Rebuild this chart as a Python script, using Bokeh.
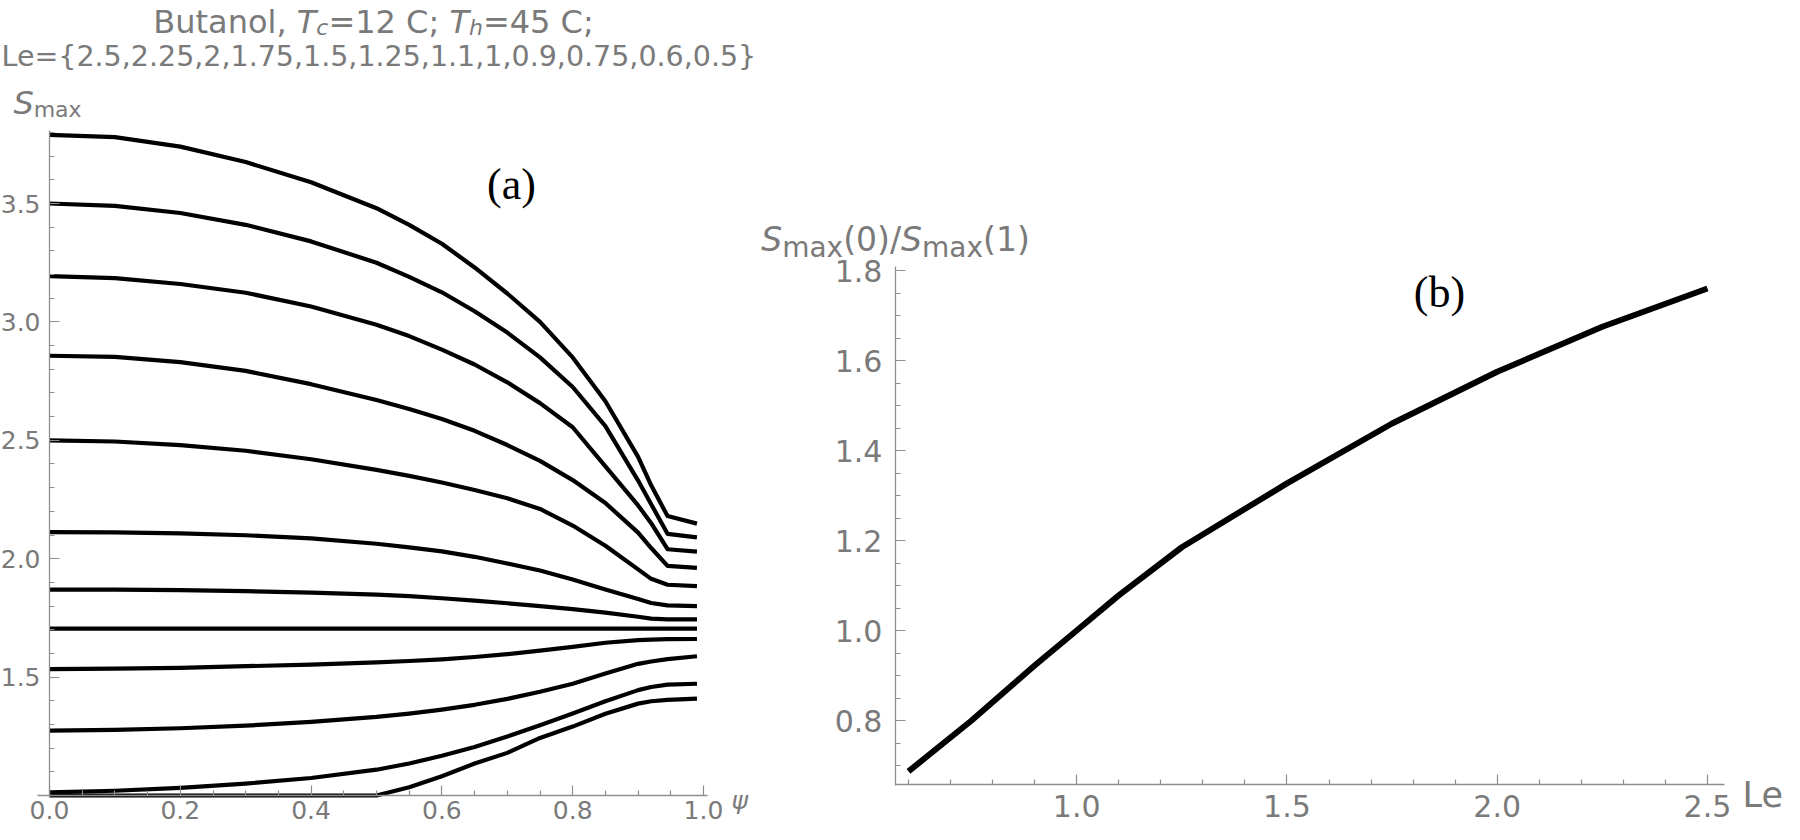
from bokeh.plotting import figure
from bokeh.layouts import row
from bokeh.models import Label, FixedTicker, Range1d
from bokeh.embed import file_html
from bokeh.resources import INLINE

# ---------------- data ----------------
LE_VALUES = ["2.5", "2.25", "2", "1.75", "1.5", "1.25", "1.1", "1", "0.9", "0.75", "0.6", "0.5"]
TC = 12
TH = 45

PSI = [0.0, 0.1, 0.2, 0.3, 0.4, 0.5, 0.55, 0.6, 0.65, 0.7, 0.75, 0.8, 0.85, 0.9, 0.92, 0.945, 0.99]

S_LE_2_5  = [3.79, 3.78, 3.74, 3.675, 3.59, 3.48, 3.41, 3.33, 3.23, 3.12, 3.00, 2.85, 2.665, 2.43, 2.31, 2.18, 2.148]
S_LE_2_25 = [3.50, 3.49, 3.46, 3.41, 3.34, 3.25, 3.19, 3.125, 3.045, 2.955, 2.85, 2.725, 2.56, 2.33, 2.23, 2.105, 2.09]
S_LE_2_0  = [3.193, 3.185, 3.16, 3.123, 3.065, 2.988, 2.94, 2.883, 2.82, 2.745, 2.657, 2.555, 2.39, 2.225, 2.15, 2.04, 2.03]
S_LE_1_75 = [2.857, 2.852, 2.83, 2.793, 2.737, 2.67, 2.632, 2.59, 2.54, 2.48, 2.413, 2.332, 2.235, 2.11, 2.045, 1.97, 1.961]
S_LE_1_5  = [2.50, 2.495, 2.48, 2.456, 2.42, 2.375, 2.35, 2.322, 2.29, 2.255, 2.21, 2.14, 2.055, 1.955, 1.915, 1.89, 1.884]
S_LE_1_25 = [2.112, 2.111, 2.107, 2.099, 2.086, 2.063, 2.048, 2.031, 2.008, 1.98, 1.95, 1.912, 1.87, 1.83, 1.813, 1.803, 1.80]
S_LE_1_1  = [1.869, 1.869, 1.867, 1.863, 1.857, 1.848, 1.842, 1.833, 1.823, 1.812, 1.80, 1.787, 1.772, 1.755, 1.747, 1.744, 1.744]
S_LE_1_0  = [1.705, 1.705, 1.705, 1.705, 1.705, 1.705, 1.705, 1.705, 1.705, 1.705, 1.705, 1.705, 1.705, 1.705, 1.705, 1.705, 1.705]
S_LE_0_9  = [1.534, 1.536, 1.539, 1.546, 1.553, 1.562, 1.568, 1.575, 1.585, 1.597, 1.612, 1.628, 1.645, 1.656, 1.658, 1.66, 1.661]
S_LE_0_75 = [1.274, 1.277, 1.284, 1.295, 1.311, 1.332, 1.346, 1.363, 1.383, 1.408, 1.438, 1.472, 1.515, 1.556, 1.566, 1.576, 1.588]
S_LE_0_6  = [1.013, 1.02, 1.032, 1.05, 1.074, 1.109, 1.135, 1.168, 1.205, 1.249, 1.297, 1.346, 1.398, 1.445, 1.458, 1.468, 1.472]
S_LE_0_5  = [1.0, 1.0, 1.0, 1.0, 1.0, 1.0, 1.035, 1.081, 1.135, 1.18, 1.243, 1.291, 1.345, 1.388, 1.398, 1.404, 1.409]

CURVES_A = [S_LE_2_5, S_LE_2_25, S_LE_2_0, S_LE_1_75, S_LE_1_5, S_LE_1_25,
            S_LE_1_1, S_LE_1_0, S_LE_0_9, S_LE_0_75, S_LE_0_6, S_LE_0_5]

LE_B = [0.6, 0.75, 0.9, 1.0, 1.1, 1.25, 1.5, 1.75, 2.0, 2.25, 2.5]
RATIO_B = [0.687, 0.80, 0.922, 1.0, 1.078, 1.185, 1.327, 1.46, 1.575, 1.675, 1.76]

XA_MAJOR = [0.0, 0.2, 0.4, 0.6, 0.8, 1.0]
XA_LABELS = ["0.0", "0.2", "0.4", "0.6", "0.8", "1.0"]
YA_MAJOR = [1.5, 2.0, 2.5, 3.0, 3.5]
YA_LABELS = ["1.5", "2.0", "2.5", "3.0", "3.5"]
XB_MAJOR = [1.0, 1.5, 2.0, 2.5]
XB_LABELS = ["1.0", "1.5", "2.0", "2.5"]
YB_MAJOR = [0.8, 1.0, 1.2, 1.4, 1.6, 1.8]
YB_LABELS = ["0.8", "1.0", "1.2", "1.4", "1.6", "1.8"]

XA_MINOR = [round(i * 0.05, 2) for i in range(0, 21) if i % 4 != 0]
YA_MINOR = [round(1.0 + i * 0.1, 2) for i in range(1, 29) if i % 5 != 0]
XB_MINOR = [round(0.6 + i * 0.1, 2) for i in range(0, 20) if round(0.6 + i * 0.1, 2) not in XB_MAJOR]
YB_MINOR = [round(0.7 + i * 0.05, 2) for i in range(0, 23) if round(0.7 + i * 0.05, 2) not in YB_MAJOR]

# ---------------- style ----------------
AX = "#8e8e8e"
TXT = "#7a7a7a"
FONT = "DejaVu Sans"
H = 824

W_TABLE = {' ': 318, ',': 318, '.': 318, '=': 838, '{': 636, '}': 636, '(': 390, ')': 390,
           '/': 337, ';': 337, 'B': 686, 'C': 698, 'L': 557, 'S': 635, 'T': 611, 'a': 613,
           'c': 550, 'e': 615, 'h': 634, 'l': 278, 'm': 974, 'n': 634, 'o': 612, 't': 392,
           'u': 634, 'x': 592}
for d in "0123456789":
    W_TABLE[d] = 636


def text_width(s, size, italic=False):
    try:
        from PIL import ImageFont
        f = ImageFont.truetype("DejaVuSans-Oblique.ttf" if italic else "DejaVuSans.ttf", size)
        return f.getlength(s)
    except Exception:
        return sum(W_TABLE.get(c, 600) for c in s) * size / 1000.0


class Mapper:
    """page pixel -> data coordinate for a figure whose frame fills its canvas"""
    def __init__(self, left_px, top_px, x0, sx, y1, sy):
        self.left, self.top, self.x0, self.sx, self.y1, self.sy = left_px, top_px, x0, sx, y1, sy

    def x(self, px):
        return self.x0 + (px - self.left) / self.sx

    def y(self, py):
        return self.y1 - (py - self.top) / self.sy


def rich(p, m, px, base_py, segs, align="left", color=TXT):
    widths = [text_width(t, sz, it) for (t, sz, it, sh) in segs]
    total = sum(widths)
    start = px - (total / 2.0 if align == "center" else 0.0)
    for (t, sz, it, sh), w in zip(segs, widths):
        p.add_layout(Label(x=m.x(start), y=m.y(base_py + sh), text=t,
                           text_font=FONT, text_font_style="italic" if it else "normal",
                           text_font_size=f"{sz}px", text_color=color,
                           text_align="left", text_baseline="alphabetic"))
        start += w


def style_axes(p, xmaj, xlab, xmin, ymaj, ylab, ymin, fsize, xstand, ystand,
               xloc, yloc, xbounds, ybounds):
    p.xaxis.ticker = FixedTicker(ticks=xmaj, minor_ticks=xmin)
    p.yaxis.ticker = FixedTicker(ticks=ymaj, minor_ticks=ymin)
    p.xaxis.major_label_overrides = {v: l for v, l in zip(xmaj, xlab)}
    p.yaxis.major_label_overrides = {v: l for v, l in zip(ymaj, ylab)}
    p.xaxis.fixed_location = xloc
    p.yaxis.fixed_location = yloc
    p.xaxis.bounds = xbounds
    p.yaxis.bounds = ybounds
    for ax in (p.xaxis[0], p.yaxis[0]):
        ax.axis_line_color = AX
        ax.axis_line_width = 1.3
        ax.major_tick_line_color = AX
        ax.minor_tick_line_color = AX
        ax.major_tick_line_width = 1.2
        ax.minor_tick_line_width = 1.2
        ax.major_tick_in = 10
        ax.major_tick_out = 0
        ax.minor_tick_in = 5
        ax.minor_tick_out = 0
        ax.major_label_text_color = TXT
        ax.major_label_text_font = FONT
        ax.major_label_text_font_size = f"{fsize}px"
    p.xaxis.major_label_standoff = xstand
    p.yaxis.major_label_standoff = ystand
    p.xgrid.visible = False
    p.ygrid.visible = False
    p.outline_line_color = None


# ---------------- panel (a) ----------------
WA = 757
SAX, SAY = 654.0, 236.8             # px per unit
XA0 = 0.0 - (57 - 8) / SAX
YA1 = 1.0 + (803 - 8) / SAY
ma = Mapper(8, 8, XA0, SAX, YA1, SAY)
XA1 = XA0 + WA / SAX
YA0 = YA1 - H / SAY

pa = figure(width=WA, height=H, output_backend="svg", toolbar_location=None,
            x_range=Range1d(XA0, XA1), y_range=Range1d(YA0, YA1), min_border=0)
style_axes(pa, XA_MAJOR, XA_LABELS, XA_MINOR, YA_MAJOR, YA_LABELS, YA_MINOR, 25, 5, 9,
           1.0, 0.0, (-0.018, 1.006), (0.99, 3.81))

for s in CURVES_A:
    pa.line(PSI, s, line_color="black", line_width=4.2, line_join="round")

rich(pa, ma, 381, 29, [("Butanol, ", 32, False, 0), ("T", 32, True, 0), ("c", 22, True, 6),
                       (f"={TC} C; ", 32, False, 0), ("T", 32, True, 0), ("h", 22, True, 6),
                       (f"={TH} C;", 32, False, 0)], align="center")
rich(pa, ma, 9, 64, [("Le={" + ",".join(LE_VALUES) + "}", 28.5, False, 0)], align="left")
rich(pa, ma, 55, 110, [("S", 32, True, 0), ("max", 22, False, 7)], align="center")
rich(pa, ma, 739, 808, [("\u03c8", 25, True, 0)], align="left")
pa.add_layout(Label(x=ma.x(519), y=ma.y(192), text="(a)", text_font="Liberation Serif",
                    text_font_size="44px", text_color="black", text_align="center",
                    text_baseline="middle"))

# ---------------- panel (b) ----------------
WB = 1027
SBX, SBY = 420.5, 450.0
XB0 = 0.6 - (916 - 765) / SBX
YB1 = 0.8 + (728 - 8) / SBY
mb = Mapper(765, 8, XB0, SBX, YB1, SBY)
XB1 = XB0 + WB / SBX
YB0 = YB1 - H / SBY

pb = figure(width=WB, height=H, output_backend="svg", toolbar_location=None,
            x_range=Range1d(XB0, XB1), y_range=Range1d(YB0, YB1), min_border=0)
style_axes(pb, XB_MAJOR, XB_LABELS, XB_MINOR, YB_MAJOR, YB_LABELS, YB_MINOR, 30, 11, 13,
           0.658, 0.569, (0.569, 2.54), (0.656, 1.81))

pb.line(LE_B, RATIO_B, line_color="black", line_width=6, line_join="round")

rich(pb, mb, 903, 247, [("S", 33, True, 0), ("max", 28, False, 8), ("(0)/", 33, False, 0),
                        ("S", 33, True, 0), ("max", 28, False, 8), ("(1)", 33, False, 0)],
     align="center")
rich(pb, mb, 1750, 802, [("Le", 35, False, 0)], align="left")
pb.add_layout(Label(x=mb.x(1447), y=mb.y(300), text="(b)", text_font="Liberation Serif",
                    text_font_size="44px", text_color="black", text_align="center",
                    text_baseline="middle"))

layout = row(pa, pb)
open("out.html", "w").write(file_html(layout, INLINE))
